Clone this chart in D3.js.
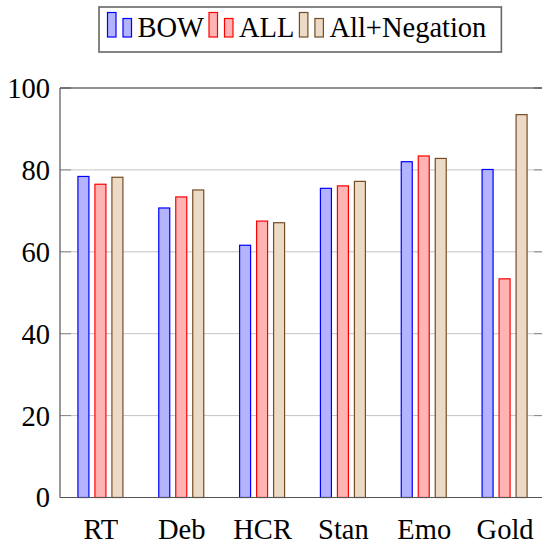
<!DOCTYPE html>
<html>
<head>
<meta charset="utf-8">
<script src="https://cdn.jsdelivr.net/npm/d3@7"></script>
</head>
<body style="margin:0">
<svg id="chart" width="542" height="545"></svg>
<script>
// data
const categories = ['RT', 'Deb', 'HCR', 'Stan', 'Emo', 'Gold'];
const seriesNames = ['BOW', 'ALL', 'All+Negation'];
const bowValues = [78.4, 70.7, 61.6, 75.5, 82.0, 80.1];
const allValues = [76.5, 73.4, 67.5, 76.1, 83.4, 53.4];
const negValues = [78.2, 75.1, 67.1, 77.2, 82.8, 93.5];
const yTicks = [0, 20, 40, 60, 80, 100];

const seriesValues = [bowValues, allValues, negValues];
const strokes = ['#0000ff', '#ff0000', '#734d26'];
const fills = ['#b3b3ff', '#ffb3b3', '#ecd9c6'];

const fontFamily = 'Liberation Serif';
const fontSize = 28.5;
const plotLeft = 60, plotRight = 545, plotTop = 88, plotBottom = 497.5;

const svg = d3.select('#chart');

const x = d3.scalePoint().domain(categories).range([plotLeft, plotRight]).padding(0.5);
const xs = d3.scalePoint().domain(seriesNames).range([-17, 17]);
const y = d3.scaleLinear().domain([0, 100]).range([plotBottom, plotTop]);
const barW = 11;

// grid
svg.append('g').selectAll('line')
  .data(yTicks.filter(d => d > 0 && d < 100)).enter()
  .append('line')
  .attr('x1', plotLeft).attr('x2', plotRight)
  .attr('y1', d => y(d)).attr('y2', d => y(d))
  .attr('stroke', '#c4c4c4').attr('stroke-width', 1);

// tick marks, inside on both sides
const tk = svg.append('g');
yTicks.forEach(d => {
  tk.append('line').attr('x1', plotLeft).attr('x2', plotLeft + 11)
    .attr('y1', y(d)).attr('y2', y(d)).attr('stroke', '#888');
  tk.append('line').attr('x1', plotRight - 11).attr('x2', plotRight)
    .attr('y1', y(d)).attr('y2', y(d)).attr('stroke', '#888');
});

// bars
const groups = svg.append('g').selectAll('g')
  .data(categories).enter()
  .append('g');

seriesNames.forEach((s, si) => {
  groups.append('rect')
    .attr('x', (d, i) => x(d) + xs(s) - barW / 2)
    .attr('y', (d, i) => y(seriesValues[si][i]))
    .attr('width', barW)
    .attr('height', (d, i) => plotBottom - y(seriesValues[si][i]))
    .attr('fill', fills[si])
    .attr('stroke', strokes[si])
    .attr('stroke-width', 1.2);
});

// frame
svg.append('line').attr('x1', plotLeft).attr('x2', plotRight).attr('y1', plotTop).attr('y2', plotTop)
  .attr('stroke', '#222').attr('stroke-width', 1.2);
svg.append('line').attr('x1', plotLeft).attr('x2', plotLeft).attr('y1', plotTop).attr('y2', plotBottom)
  .attr('stroke', '#555').attr('stroke-width', 1.2);
svg.append('line').attr('x1', plotLeft).attr('x2', plotRight).attr('y1', plotBottom).attr('y2', plotBottom)
  .attr('stroke', '#555').attr('stroke-width', 1.2);

// axes labels
const yAxis = d3.axisLeft(y).tickValues(yTicks).tickSize(0).tickPadding(10);
const gy = svg.append('g').attr('transform', 'translate(' + plotLeft + ',0)').call(yAxis);
gy.attr('font-family', fontFamily).attr('font-size', fontSize);
gy.select('.domain').remove();
gy.selectAll('text').attr('dy', '0.33em').attr('fill', '#000')
  .style('font-family', fontFamily).style('font-size', fontSize + 'px');

const xAxis = d3.axisBottom(x).tickSize(0).tickPadding(21);
const gx = svg.append('g').attr('transform', 'translate(0,' + plotBottom + ')').call(xAxis);
gx.attr('font-family', fontFamily).attr('font-size', fontSize);
gx.select('.domain').remove();
gx.selectAll('text').attr('fill', '#000')
  .style('font-family', fontFamily).style('font-size', fontSize + 'px');

// legend
const legend = svg.append('g');
const box = legend.append('rect')
  .attr('fill', '#fff').attr('stroke', '#666').attr('stroke-width', 1.6);
let lx = 107.5;
const base = 37;
seriesNames.forEach((s, si) => {
  legend.append('rect').attr('x', lx).attr('y', base - 24.5)
    .attr('width', 8.5).attr('height', 24.5)
    .attr('fill', fills[si]).attr('stroke', strokes[si]).attr('stroke-width', 1.2);
  legend.append('rect').attr('x', lx + 15.5).attr('y', base - 18.5)
    .attr('width', 8.5).attr('height', 18.5)
    .attr('fill', fills[si]).attr('stroke', strokes[si]).attr('stroke-width', 1.2);
  const t = legend.append('text').attr('x', lx + 30).attr('y', base)
    .attr('font-family', fontFamily).attr('font-size', fontSize)
    .style('font-family', fontFamily).style('font-size', fontSize + 'px')
    .text(s);
  lx = lx + 30 + t.node().getComputedTextLength() + 5;
});
box.attr('x', 99).attr('y', 7).attr('width', lx - 99 + 10).attr('height', 45);
</script>
</body>
</html>
